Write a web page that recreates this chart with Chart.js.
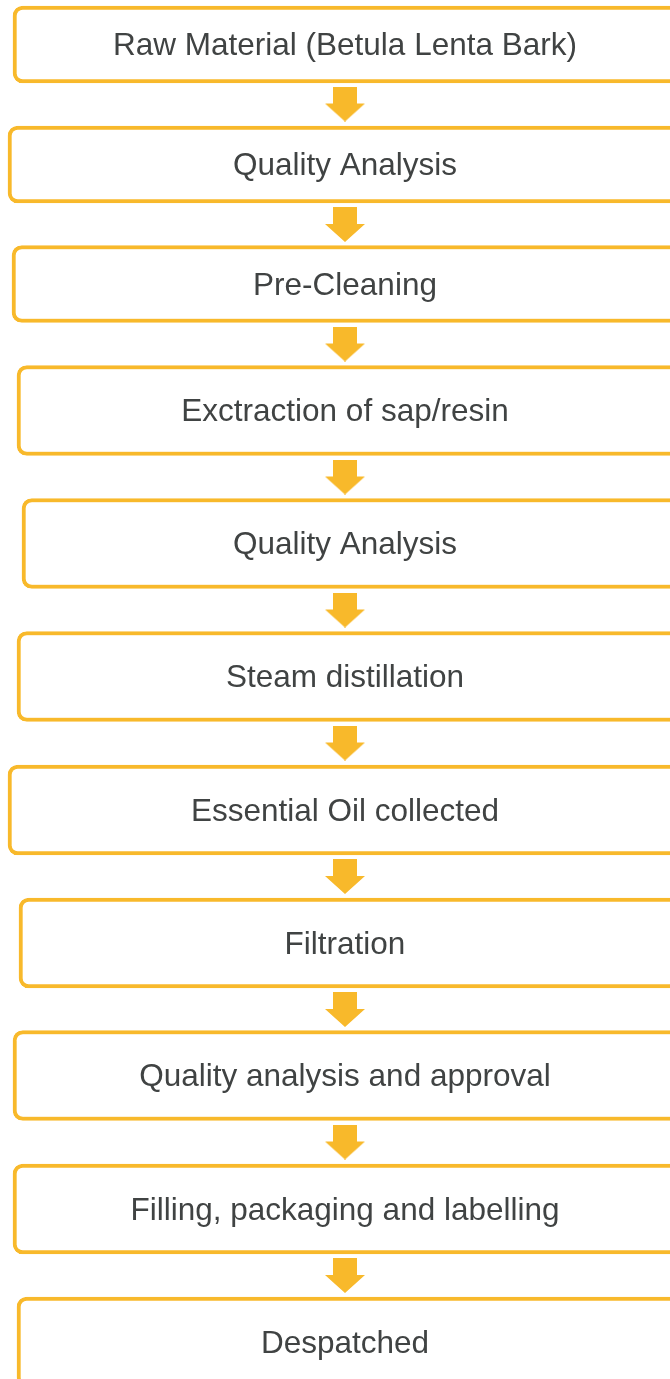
<!DOCTYPE html>
<html>
<head>
<meta charset="utf-8">
<script src="https://cdn.jsdelivr.net/npm/chart.js@4.4.0/dist/chart.umd.min.js"></script>
<style>
  html, body { margin: 0; padding: 0; background: #ffffff; }
  #flow { display: block; }
</style>
</head>
<body>
<canvas id="flow" width="670" height="1379"></canvas>
<script>
// process steps, top to bottom
const stepLabels = [
  'Raw Material (Betula Lenta Bark)',
  'Quality Analysis',
  'Pre-Cleaning',
  'Exctraction of sap/resin',
  'Quality Analysis',
  'Steam distillation',
  'Essential Oil collected',
  'Filtration',
  'Quality analysis and approval',
  'Filling, packaging and labelling',
  'Despatched'
];
// box extents (x from left, y from top)
const stepLeft   = [13, 8, 12, 17, 22, 17, 8, 19, 13, 13, 17];
const stepRight  = [682, 682, 682, 682, 682, 682, 682, 682, 682, 682, 682];
const stepCenter = [44.5, 164.5, 284, 410.5, 543.5, 676.5, 810, 943, 1075.5, 1209, 1342];
// arrows sit in the gaps between boxes
const arrowCenter = [104, 224.5, 344, 477, 610, 743, 876.5, 1009.5, 1142, 1275.5];
const arrowX = 345;

const orange = '#F8B92B';

// the first three boxes are a little shorter than the rest
const shortBoxes = stepLabels.slice(0, 3).map((s, i) => ({ x: [stepLeft[i], stepRight[i]], y: stepCenter[i], label: s }));
const tallBoxes = stepLabels.slice(3).map((s, i) => ({ x: [stepLeft[i + 3], stepRight[i + 3]], y: stepCenter[i + 3], label: s }));
const arrows = arrowCenter.map(y => ({ x: arrowX, y: y }));

// down arrow used as point style
const arrowImg = document.createElement('canvas');
arrowImg.width = 40;
arrowImg.height = 35;
const a = arrowImg.getContext('2d');
a.fillStyle = orange;
a.beginPath();
a.moveTo(8, 0); a.lineTo(32, 0); a.lineTo(32, 17);
a.lineTo(40, 17); a.lineTo(20, 35); a.lineTo(0, 17);
a.lineTo(8, 17); a.closePath();
a.fill();

const boxText = {
  id: 'boxText',
  afterDatasetsDraw(chart) {
    const ctx = chart.ctx;
    ctx.save();
    ctx.fillStyle = '#404343';
    ctx.font = '31.5px "Liberation Sans", Arial, sans-serif';
    ctx.textAlign = 'center';
    ctx.textBaseline = 'alphabetic';
    [0, 1].forEach(di => {
      const meta = chart.getDatasetMeta(di);
      meta.data.forEach((bar, i) => {
        const d = chart.data.datasets[di].data[i];
        ctx.fillText(d.label, chart.scales.x.getPixelForValue(arrowX), bar.y + 10.5);
      });
    });
    ctx.restore();
  }
};

const boxStyle = {
  type: 'bar',
  indexAxis: 'y',
  backgroundColor: '#ffffff',
  borderColor: orange,
  borderWidth: 4,
  borderRadius: 10,
  borderSkipped: false,
  grouped: false,
  clip: false
};

new Chart(document.getElementById('flow').getContext('2d'), {
  type: 'bar',
  data: {
    datasets: [
      Object.assign({ label: 'steps', data: shortBoxes, barThickness: 77 }, boxStyle),
      Object.assign({ label: 'steps2', data: tallBoxes, barThickness: 90 }, boxStyle),
      {
        type: 'scatter',
        label: 'arrows',
        data: arrows,
        pointStyle: arrowImg,
        clip: false
      }
    ]
  },
  options: {
    responsive: false,
    animation: false,
    layout: { padding: 0, autoPadding: false },
    plugins: { legend: { display: false }, tooltip: { enabled: false } },
    scales: {
      x: { type: 'linear', min: 0, max: 670, offset: false, display: false },
      y: { type: 'linear', min: 0, max: 1379, reverse: true, offset: false, display: false }
    }
  },
  plugins: [boxText]
});
</script>
</body>
</html>
